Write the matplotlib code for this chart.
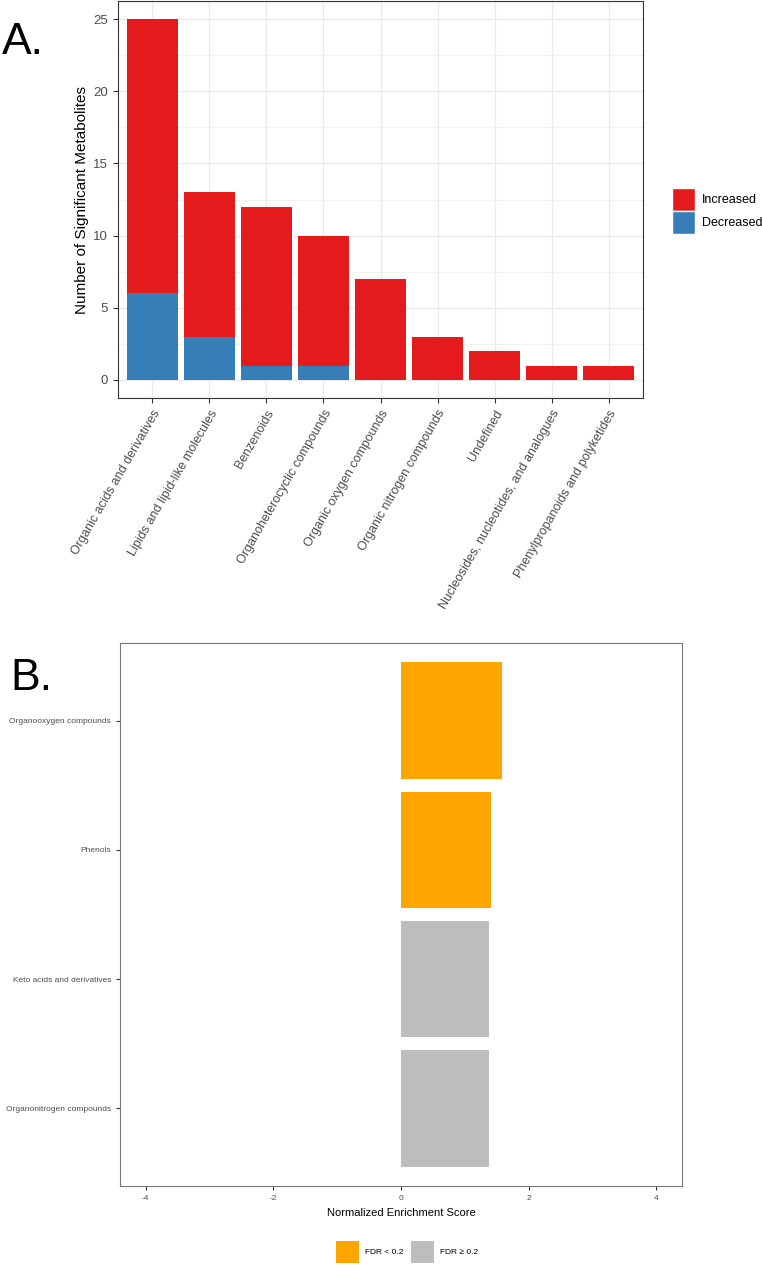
import matplotlib
matplotlib.use("Agg")
import matplotlib.pyplot as plt
from matplotlib.patches import Patch

plt.rcParams['font.family'] = ['Liberation Sans', 'DejaVu Sans']
plt.rcParams['axes.unicode_minus'] = False

# panel A data
classes = ["Organic acids and derivatives", "Lipids and lipid-like molecules", "Benzenoids",
           "Organoheterocyclic compounds", "Organic oxygen compounds", "Organic nitrogen compounds",
           "Undefined", "Nucleosides, nucleotides, and analogues", "Phenylpropanoids and polyketides"]
decreased = [6, 3, 1, 1, 0, 0, 0, 0, 0]
increased = [19, 10, 11, 9, 7, 3, 2, 1, 1]

# panel B data
pathways = ["Organooxygen compounds", "Phenols", "Keto acids and derivatives", "Organonitrogen compounds"]
nes = [1.58, 1.41, 1.38, 1.38]
significant = [True, True, False, False]

W, H = 762, 1265
fig = plt.figure(figsize=(W / 100, H / 100), dpi=100)

def box(l, t, r, b):
    return [l / W, 1 - b / H, (r - l) / W, (b - t) / H]

red, blue = "#E41A1C", "#377EB8"
orange, grey = "#FFA500", "#BEBEBE"

# ---- A ----
ax = fig.add_axes(box(118, 1, 643, 398))
x = list(range(1, len(classes) + 1))
ax.bar(x, decreased, width=0.9, color=blue, zorder=3)
ax.bar(x, increased, bottom=decreased, width=0.9, color=red, zorder=3)
ax.set_xlim(0.4, len(classes) + 0.6)
ax.set_ylim(-1.25, 26.25)
ax.set_yticks([0, 5, 10, 15, 20, 25])
ax.set_yticks([2.5, 7.5, 12.5, 17.5, 22.5], minor=True)
ax.set_xticks(x)
ax.set_xticklabels(classes, rotation=60, ha="right", rotation_mode="anchor", fontsize=9, color="#4D4D4D")
ax.tick_params(axis="y", labelsize=9.5, labelcolor="#4D4D4D")
ax.tick_params(which="both", color="#333333", length=3.5, width=0.8)
ax.tick_params(which="minor", length=0)
ax.grid(which="major", color="#EBEBEB", lw=1.0, zorder=0)
ax.grid(which="minor", color="#EBEBEB", lw=0.5, zorder=0)
for s in ax.spines.values():
    s.set_color("#333333")
    s.set_linewidth(0.8)
ax.set_ylabel("Number of Significant Metabolites", fontsize=11, labelpad=3)
ax.legend(handles=[Patch(facecolor=red, edgecolor="white", label="Increased"),
                   Patch(facecolor=blue, edgecolor="white", label="Decreased")],
          loc="center left", bbox_to_anchor=(666 / W, 1 - 211 / H), bbox_transform=fig.transFigure,
          frameon=False, fontsize=9, handlelength=1.85, handleheight=2.45, labelspacing=0.0,
          handletextpad=0.5, borderpad=0)

fig.text(2 / W, 1 - 42 / H, "A.", fontsize=32, va="center", ha="left")

# ---- B ----
bx = fig.add_axes(box(120, 643, 682, 1186))
yb = list(range(len(pathways), 0, -1))
bx.barh(yb, nes, height=0.9, color=[orange if s else grey for s in significant], zorder=3)
bx.set_xlim(-4.4, 4.4)
bx.set_ylim(0.4, len(pathways) + 0.6)
bx.set_yticks(yb)
bx.set_yticklabels(pathways, fontsize=6, color="#4D4D4D")
bx.set_xticks([-4, -2, 0, 2, 4])
bx.tick_params(axis="x", labelsize=6, labelcolor="#4D4D4D")
bx.tick_params(color="#333333", length=3, width=0.8)
for s in bx.spines.values():
    s.set_color("#777777")
    s.set_linewidth(0.8)
bx.set_xlabel("Normalized Enrichment Score", fontsize=8, labelpad=4)
bx.legend(handles=[Patch(facecolor=orange, label="FDR < 0.2"),
                   Patch(facecolor=grey, label="FDR \u2265 0.2")],
          loc="center left", bbox_to_anchor=(332 / W, 1 - 1252 / H), bbox_transform=fig.transFigure,
          frameon=False, fontsize=6, ncol=2, handlelength=2.7, handleheight=3.85,
          handletextpad=0.8, columnspacing=0.9, borderpad=0)

fig.text(10 / W, 1 - 678 / H, "B.", fontsize=32, va="center", ha="left")

fig.savefig("out.png", dpi=100)
